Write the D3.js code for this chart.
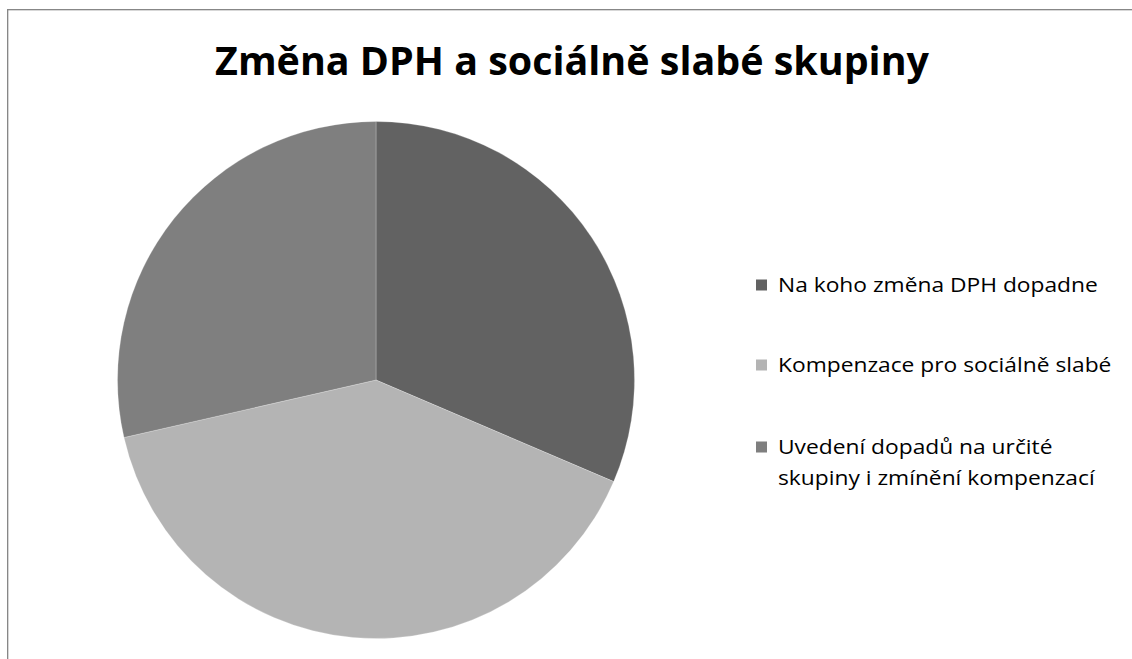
<!DOCTYPE html>
<html>
<head>
<meta charset="utf-8">
<script src="https://cdn.jsdelivr.net/npm/d3@7"></script>
<style>
  body { margin: 0; background: #fff; }
  svg { display: block; }
  text { font-family: "Open Sans", sans-serif; fill: #000; }
</style>
</head>
<body>
<svg id="chart"></svg>
<script>
// pie chart - share of articles by topic

const title = "Změna DPH a sociálně slabé skupiny";
const categories = ["Na koho změna DPH dopadne", "Kompenzace pro sociálně slabé", "Uvedení dopadů na určité skupiny i zmínění kompenzací"];
const legendLines = [["Na koho změna DPH dopadne"], ["Kompenzace pro sociálně slabé"], ["Uvedení dopadů na určité", "skupiny i zmínění kompenzací"]];
const values = [11, 14, 10];
const colors = ["#626262", "#b4b4b4", "#7f7f7f"];

let width = 1132;
let height = 659;

let svg = d3.select("#chart")
	.attr("width", width)
	.attr("height", height);

// chart frame (only top / left visible)
svg.append("rect")
	.attr("x", 7.67)
	.attr("y", 9.67)
	.attr("width", width + 20)
	.attr("height", height + 20)
	.attr("fill", "none")
	.attr("stroke", "#878787")
	.attr("stroke-width", 1.33);

// squeeze text horizontally so it takes the width of the original (narrower) font
function squeeze(sel, x, y, target){
	let w = sel.node().getBBox().width;
	sel.attr("transform", "translate(" + x + "," + y + ") scale(" + (target / w) + ",1)");
}

let titleText = svg.append("text")
	.attr("text-anchor", "middle")
	.style("font-weight", "bold")
	.style("font-size", "39px")
	.text(title);
squeeze(titleText, 572, 75, 715);

// pie
let cx = 376, cy = 380, radius = 258.5;

let pie = d3.pie().sort(null).value(d => d);
let arc = d3.arc().innerRadius(0).outerRadius(radius);

let g = svg.append("g")
	.attr("transform", "translate(" + cx + "," + cy + ")");

g.selectAll("path")
	.data(pie(values))
	.join("path")
	.attr("d", arc)
	.attr("fill", (d, i) => colors[i])
	.attr("stroke", "#ffffff")
	.attr("stroke-opacity", 0.4)
	.attr("stroke-width", 0.6);

// legend
let legendY = [285, 365, 447];
let lineGap = 31;

let items = svg.append("g").selectAll("g")
	.data(categories)
	.join("g")
	.attr("transform", (d, i) => "translate(0," + legendY[i] + ")");

items.append("rect")
	.attr("x", 756)
	.attr("y", -5.5)
	.attr("width", 11)
	.attr("height", 11)
	.attr("fill", (d, i) => colors[i]);

let labels = items.append("text")
	.style("font-size", "20.5px");

labels.selectAll("tspan")
	.data((d, i) => legendLines[i])
	.join("tspan")
	.attr("x", 0)
	.attr("dy", (d, j) => j == 0 ? 0 : lineGap)
	.text(d => d);

// same squeeze for every label, taken from the first one
let firstW = labels.filter((d, i) => i == 0).node().getBBox().width;
let sx = 320 / firstW;
labels.attr("transform", "translate(778,7) scale(" + sx + ",1)");
</script>
</body>
</html>
